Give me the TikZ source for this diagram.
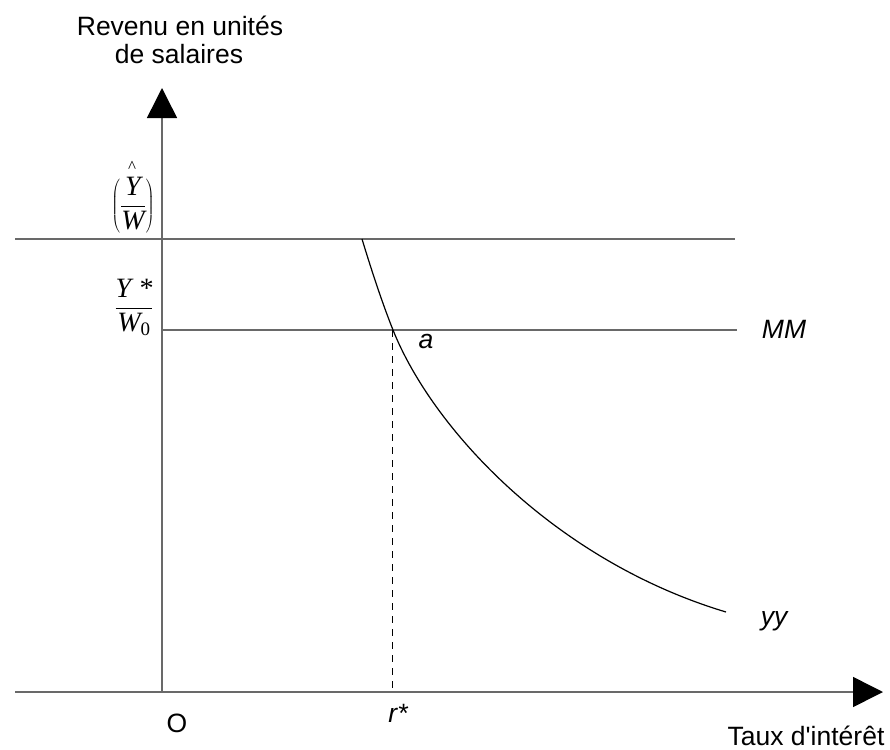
\documentclass[tikz,border=0pt]{standalone}
\usepackage{fontspec}
\setmainfont{Liberation Sans}
\newfontfamily\tnr{Liberation Serif}
\usetikzlibrary{arrows.meta}
\definecolor{axisgray}{RGB}{105,105,105}
\tikzset{
  axisline/.style={draw=axisgray, line width=1.5pt},
  axisarrow/.style={axisline, -{Triangle[length=30pt,width=30pt,color=black,fill=black]}},
  curveline/.style={draw=black, line width=1.2pt},
  dashline/.style={draw=black, line width=1pt, dash pattern=on 7pt off 6pt},
  lbl/.style={inner sep=0pt, font=\fontsize{26.5}{28}\selectfont},
  ilbl/.style={inner sep=0pt, font=\fontsize{26.5}{28}\selectfont\itshape},
  mlbl/.style={inner sep=0pt, font=\fontsize{28}{30}\selectfont},
}
\begin{document}
\begin{tikzpicture}[x=1pt,y=-1pt]
\useasboundingbox (0,0) rectangle (890,749);
% coordinates
\coordinate (yb) at (162,692);
\coordinate (yt) at (162,88);
\coordinate (xl) at (15,692);
\coordinate (xr) at (883,692);
\coordinate (hl) at (15,239);
\coordinate (hr) at (735,239);
\coordinate (ml) at (162,330);
\coordinate (mr) at (737,330);
\coordinate (a) at (392,330);
\coordinate (ra) at (392,692);
\coordinate (c0) at (362,239);
\coordinate (c1) at (393,330);
\coordinate (c2) at (726,612);
% axes
\draw[axisarrow] (yb) -- (yt);
\draw[axisarrow] (xl) -- (xr);
% horizontal lines
\draw[axisline] (hl) -- (hr);
\draw[axisline] (ml) -- (mr);
% dashed
\draw[dashline] (a) -- (ra);
% curve yy
\draw[curveline] (c0) .. controls (372,272) and (383,305) .. (c1)
  .. controls (433,430) and (556,561) .. (c2);
% labels
\node[lbl, anchor=base] (t1) at (180,36) {Revenu en unités};
\node[lbl, anchor=base] (t2) at (179,64) {de salaires};
\node[lbl, anchor=base] (o) at (177,732) {O};
\node[ilbl, anchor=base] (rs) at (398,722) {r*};
\node[lbl, anchor=base] (tx) at (806,745) {Taux d\textquotesingle intérêt};
\node[ilbl, anchor=base] (mm) at (784,338) {MM};
\node[ilbl, anchor=base] (al) at (426,348) {a};
\node[ilbl, anchor=base] (yy) at (774,625) {yy};
% fractions
\node[mlbl, anchor=base] (fh) at (133,212) {$\left(\displaystyle\frac{\mbox{\tnr\itshape Y}}{\mbox{\tnr\itshape W}}\right)$};
\node[inner sep=0pt, font=\tnr\fontsize{17}{17}\selectfont] (hat) at (132,167) {\^{}};
\node[mlbl, anchor=base] (fs) at (134,314) {$\displaystyle\frac{\mbox{\tnr\itshape Y *}}{\mbox{\tnr\itshape W}_{\mbox{\tnr\fontsize{19}{19}\selectfont 0}}}$};
\end{tikzpicture}
\end{document}
